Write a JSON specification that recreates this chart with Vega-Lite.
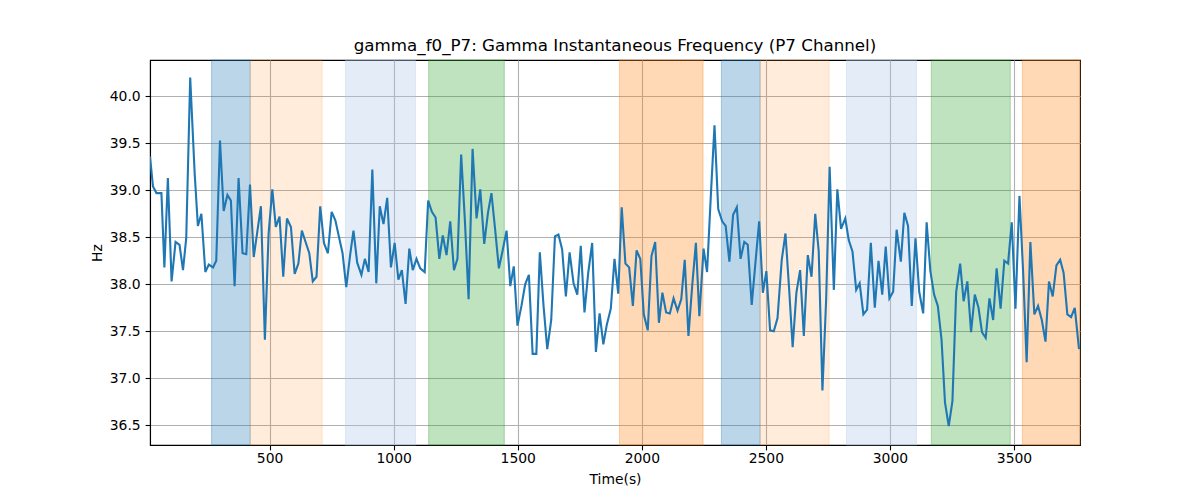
{
  "$schema": "https://vega.github.io/schema/vega-lite/v6.json",
  "width": 930,
  "height": 385,
  "autosize": {"type": "none"},
  "padding": {"left": 150, "top": 60, "right": 120, "bottom": 55},
  "title": {
    "text": "gamma_f0_P7: Gamma Instantaneous Frequency (P7 Channel)",
    "font": "DejaVu Sans",
    "fontSize": 16.7,
    "fontWeight": "normal",
    "color": "black",
    "anchor": "middle",
    "offset": 5
  },
  "config": {
    "view": {"stroke": "black", "strokeWidth": 1.1},
    "axis": {
      "labelFont": "DejaVu Sans",
      "labelFontSize": 13.9,
      "labelColor": "black",
      "titleFont": "DejaVu Sans",
      "titleFontSize": 13.9,
      "titleFontWeight": "normal",
      "titleColor": "black",
      "tickColor": "black",
      "tickSize": 4.9,
      "tickWidth": 1.1,
      "labelPadding": 4.9,
      "domainColor": "black",
      "domainWidth": 1.1,
      "gridColor": "#b0b0b0",
      "gridWidth": 1.1,
      "titlePadding": 5
    },
    "axisX": {"labelPadding": 1.5, "titlePadding": 7}
  },
  "datasets": {
    "bands": [
      {"start": 266, "end": 422, "kind": "A"},
      {"start": 422, "end": 712, "kind": "B"},
      {"start": 806, "end": 1088, "kind": "C"},
      {"start": 1141, "end": 1446, "kind": "D"},
      {"start": 1910, "end": 2247, "kind": "E"},
      {"start": 2321, "end": 2477, "kind": "A"},
      {"start": 2477, "end": 2755, "kind": "B"},
      {"start": 2825, "end": 3107, "kind": "C"},
      {"start": 3167, "end": 3485, "kind": "D"},
      {"start": 3534, "end": 3766, "kind": "E"}
    ],
    "series": [
      {"t": 18, "hz": 39.36}, {"t": 30, "hz": 39.04}, {"t": 44, "hz": 38.97}, {"t": 64, "hz": 38.97},
      {"t": 76, "hz": 38.18}, {"t": 90, "hz": 39.13}, {"t": 105, "hz": 38.03}, {"t": 121, "hz": 38.45},
      {"t": 137, "hz": 38.42}, {"t": 151, "hz": 38.15}, {"t": 164, "hz": 38.49}, {"t": 180, "hz": 40.2},
      {"t": 198, "hz": 39.18}, {"t": 211, "hz": 38.62}, {"t": 225, "hz": 38.75}, {"t": 241, "hz": 38.13},
      {"t": 255, "hz": 38.21}, {"t": 272, "hz": 38.18}, {"t": 285, "hz": 38.25}, {"t": 300, "hz": 39.53},
      {"t": 315, "hz": 38.78}, {"t": 330, "hz": 38.95}, {"t": 344, "hz": 38.89}, {"t": 359, "hz": 37.98},
      {"t": 375, "hz": 39.13}, {"t": 391, "hz": 38.33}, {"t": 406, "hz": 38.32}, {"t": 421, "hz": 39.06},
      {"t": 436, "hz": 38.29}, {"t": 450, "hz": 38.55}, {"t": 465, "hz": 38.83}, {"t": 481, "hz": 37.41},
      {"t": 496, "hz": 38.54}, {"t": 511, "hz": 39.01}, {"t": 525, "hz": 38.61}, {"t": 540, "hz": 38.72},
      {"t": 555, "hz": 38.08}, {"t": 570, "hz": 38.7}, {"t": 586, "hz": 38.61}, {"t": 601, "hz": 38.11},
      {"t": 616, "hz": 38.22}, {"t": 630, "hz": 38.57}, {"t": 645, "hz": 38.45}, {"t": 660, "hz": 38.33},
      {"t": 674, "hz": 38.03}, {"t": 689, "hz": 38.08}, {"t": 704, "hz": 38.83}, {"t": 719, "hz": 38.44},
      {"t": 735, "hz": 38.33}, {"t": 750, "hz": 38.77}, {"t": 765, "hz": 38.68}, {"t": 779, "hz": 38.51},
      {"t": 794, "hz": 38.33}, {"t": 809, "hz": 37.97}, {"t": 824, "hz": 38.3}, {"t": 838, "hz": 38.57},
      {"t": 853, "hz": 38.23}, {"t": 870, "hz": 38.1}, {"t": 884, "hz": 38.27}, {"t": 899, "hz": 38.13},
      {"t": 914, "hz": 39.22}, {"t": 930, "hz": 38.01}, {"t": 944, "hz": 38.83}, {"t": 959, "hz": 38.64},
      {"t": 974, "hz": 38.92}, {"t": 989, "hz": 38.18}, {"t": 1004, "hz": 38.44}, {"t": 1019, "hz": 38.05},
      {"t": 1033, "hz": 38.15}, {"t": 1048, "hz": 37.79}, {"t": 1063, "hz": 38.38}, {"t": 1077, "hz": 38.15},
      {"t": 1092, "hz": 38.27}, {"t": 1107, "hz": 38.17}, {"t": 1125, "hz": 38.13}, {"t": 1139, "hz": 38.89},
      {"t": 1154, "hz": 38.77}, {"t": 1169, "hz": 38.71}, {"t": 1184, "hz": 38.27}, {"t": 1198, "hz": 38.52},
      {"t": 1213, "hz": 38.31}, {"t": 1228, "hz": 38.67}, {"t": 1243, "hz": 38.15}, {"t": 1257, "hz": 38.27},
      {"t": 1272, "hz": 39.38}, {"t": 1287, "hz": 38.68}, {"t": 1302, "hz": 37.84}, {"t": 1318, "hz": 39.44},
      {"t": 1334, "hz": 38.7}, {"t": 1349, "hz": 39.01}, {"t": 1365, "hz": 38.43}, {"t": 1380, "hz": 38.76},
      {"t": 1394, "hz": 38.97}, {"t": 1409, "hz": 38.58}, {"t": 1424, "hz": 38.17}, {"t": 1440, "hz": 38.37},
      {"t": 1455, "hz": 38.57}, {"t": 1470, "hz": 37.98}, {"t": 1484, "hz": 38.19}, {"t": 1499, "hz": 37.56},
      {"t": 1515, "hz": 37.77}, {"t": 1530, "hz": 38.0}, {"t": 1545, "hz": 38.1}, {"t": 1560, "hz": 37.26},
      {"t": 1575, "hz": 37.26}, {"t": 1589, "hz": 38.34}, {"t": 1604, "hz": 37.77}, {"t": 1619, "hz": 37.31},
      {"t": 1635, "hz": 37.62}, {"t": 1650, "hz": 38.51}, {"t": 1664, "hz": 38.53}, {"t": 1679, "hz": 38.37},
      {"t": 1694, "hz": 37.87}, {"t": 1709, "hz": 38.34}, {"t": 1725, "hz": 38.01}, {"t": 1740, "hz": 37.89},
      {"t": 1754, "hz": 38.41}, {"t": 1769, "hz": 37.7}, {"t": 1784, "hz": 38.12}, {"t": 1800, "hz": 38.44},
      {"t": 1815, "hz": 37.28}, {"t": 1830, "hz": 37.69}, {"t": 1845, "hz": 37.36}, {"t": 1859, "hz": 37.57},
      {"t": 1875, "hz": 37.74}, {"t": 1890, "hz": 38.27}, {"t": 1905, "hz": 37.9}, {"t": 1919, "hz": 38.82},
      {"t": 1934, "hz": 38.22}, {"t": 1949, "hz": 38.18}, {"t": 1964, "hz": 37.77}, {"t": 1979, "hz": 38.36},
      {"t": 1994, "hz": 38.27}, {"t": 2008, "hz": 37.68}, {"t": 2024, "hz": 37.51}, {"t": 2039, "hz": 38.3},
      {"t": 2054, "hz": 38.45}, {"t": 2069, "hz": 37.59}, {"t": 2083, "hz": 37.91}, {"t": 2098, "hz": 37.7},
      {"t": 2113, "hz": 37.69}, {"t": 2128, "hz": 37.85}, {"t": 2144, "hz": 37.72}, {"t": 2159, "hz": 37.84},
      {"t": 2173, "hz": 38.26}, {"t": 2188, "hz": 37.45}, {"t": 2203, "hz": 37.98}, {"t": 2218, "hz": 38.44},
      {"t": 2232, "hz": 37.66}, {"t": 2249, "hz": 38.38}, {"t": 2263, "hz": 38.13}, {"t": 2278, "hz": 38.93},
      {"t": 2293, "hz": 39.69}, {"t": 2308, "hz": 38.8}, {"t": 2324, "hz": 38.67}, {"t": 2338, "hz": 38.62},
      {"t": 2353, "hz": 38.24}, {"t": 2368, "hz": 38.74}, {"t": 2383, "hz": 38.82}, {"t": 2398, "hz": 38.27},
      {"t": 2413, "hz": 38.45}, {"t": 2427, "hz": 38.42}, {"t": 2443, "hz": 37.78}, {"t": 2458, "hz": 38.23},
      {"t": 2473, "hz": 38.67}, {"t": 2488, "hz": 37.91}, {"t": 2502, "hz": 38.14}, {"t": 2517, "hz": 37.51},
      {"t": 2532, "hz": 37.5}, {"t": 2547, "hz": 37.64}, {"t": 2564, "hz": 38.26}, {"t": 2579, "hz": 38.54},
      {"t": 2594, "hz": 37.94}, {"t": 2608, "hz": 37.33}, {"t": 2623, "hz": 37.91}, {"t": 2638, "hz": 38.15},
      {"t": 2653, "hz": 37.45}, {"t": 2669, "hz": 38.31}, {"t": 2684, "hz": 38.08}, {"t": 2699, "hz": 38.75},
      {"t": 2713, "hz": 38.35}, {"t": 2728, "hz": 36.87}, {"t": 2743, "hz": 37.84}, {"t": 2757, "hz": 39.25},
      {"t": 2774, "hz": 37.94}, {"t": 2788, "hz": 39.01}, {"t": 2803, "hz": 38.59}, {"t": 2820, "hz": 38.7},
      {"t": 2834, "hz": 38.47}, {"t": 2849, "hz": 38.35}, {"t": 2864, "hz": 37.94}, {"t": 2878, "hz": 38.01},
      {"t": 2893, "hz": 37.68}, {"t": 2908, "hz": 37.73}, {"t": 2923, "hz": 38.44}, {"t": 2939, "hz": 37.75},
      {"t": 2954, "hz": 38.25}, {"t": 2969, "hz": 37.89}, {"t": 2983, "hz": 38.4}, {"t": 2998, "hz": 37.85},
      {"t": 3013, "hz": 37.92}, {"t": 3027, "hz": 38.58}, {"t": 3044, "hz": 38.24}, {"t": 3058, "hz": 38.76},
      {"t": 3073, "hz": 38.62}, {"t": 3088, "hz": 37.77}, {"t": 3103, "hz": 38.49}, {"t": 3118, "hz": 37.92},
      {"t": 3134, "hz": 37.69}, {"t": 3148, "hz": 38.66}, {"t": 3163, "hz": 38.14}, {"t": 3178, "hz": 37.89},
      {"t": 3193, "hz": 37.77}, {"t": 3208, "hz": 37.41}, {"t": 3222, "hz": 36.74}, {"t": 3237, "hz": 36.49},
      {"t": 3252, "hz": 36.76}, {"t": 3267, "hz": 37.92}, {"t": 3283, "hz": 38.22}, {"t": 3297, "hz": 37.82},
      {"t": 3312, "hz": 38.03}, {"t": 3327, "hz": 37.49}, {"t": 3342, "hz": 37.89}, {"t": 3357, "hz": 37.75},
      {"t": 3371, "hz": 37.49}, {"t": 3386, "hz": 37.43}, {"t": 3401, "hz": 37.85}, {"t": 3416, "hz": 37.62},
      {"t": 3430, "hz": 38.17}, {"t": 3446, "hz": 37.74}, {"t": 3461, "hz": 38.25}, {"t": 3476, "hz": 38.22},
      {"t": 3491, "hz": 38.66}, {"t": 3506, "hz": 37.74}, {"t": 3522, "hz": 38.94}, {"t": 3537, "hz": 38.12},
      {"t": 3551, "hz": 37.17}, {"t": 3566, "hz": 38.45}, {"t": 3582, "hz": 37.68}, {"t": 3597, "hz": 37.77},
      {"t": 3612, "hz": 37.62}, {"t": 3627, "hz": 37.39}, {"t": 3641, "hz": 38.03}, {"t": 3656, "hz": 37.87},
      {"t": 3671, "hz": 38.2}, {"t": 3686, "hz": 38.26}, {"t": 3700, "hz": 38.12}, {"t": 3715, "hz": 37.68},
      {"t": 3730, "hz": 37.65}, {"t": 3745, "hz": 37.75}, {"t": 3762, "hz": 37.31}
    ]
  },
  "layer": [
    {
      "data": {"name": "bands"},
      "transform": [{"filter": "datum.kind === 'A' || datum.kind === 'D' || datum.kind === 'E'"}],
      "mark": {"type": "rect", "strokeWidth": 1.1, "fillOpacity": 0.3, "strokeOpacity": 0.3},
      "encoding": {
        "x": {
          "field": "start",
          "type": "quantitative",
          "scale": {"domain": [18, 3766], "nice": false, "zero": false},
          "axis": {
            "title": "Time(s)",
            "values": [500, 1000, 1500, 2000, 2500, 3000, 3500],
            "format": "d"
          }
        },
        "x2": {"field": "end"},
        "color": {
          "field": "kind",
          "type": "nominal",
          "scale": {
            "domain": ["A", "B", "C", "D", "E"],
            "range": ["#1f77b4", "#ff7f0e", "#aec7e8", "#2ca02c", "#ff7f0e"]
          },
          "legend": null
        },
        "stroke": {
          "field": "kind",
          "type": "nominal",
          "scale": {
            "domain": ["A", "B", "C", "D", "E"],
            "range": ["#1f77b4", "#ff7f0e", "#aec7e8", "#2ca02c", "#ff7f0e"]
          },
          "legend": null
        }
      }
    },
    {
      "data": {"name": "bands"},
      "transform": [{"filter": "datum.kind === 'B'"}],
      "mark": {"type": "rect", "strokeWidth": 1.1, "fillOpacity": 0.15, "strokeOpacity": 0.15},
      "encoding": {
        "x": {"field": "start", "type": "quantitative"},
        "x2": {"field": "end"},
        "color": {"field": "kind", "type": "nominal", "legend": null},
        "stroke": {"field": "kind", "type": "nominal", "legend": null}
      }
    },
    {
      "data": {"name": "bands"},
      "transform": [{"filter": "datum.kind === 'C'"}],
      "mark": {"type": "rect", "strokeWidth": 1.1, "fillOpacity": 0.33, "strokeOpacity": 0.33},
      "encoding": {
        "x": {"field": "start", "type": "quantitative"},
        "x2": {"field": "end"},
        "color": {"field": "kind", "type": "nominal", "legend": null},
        "stroke": {"field": "kind", "type": "nominal", "legend": null}
      }
    },
    {
      "data": {"name": "series"},
      "mark": {"type": "line", "color": "#1f77b4", "strokeWidth": 2.1, "clip": true},
      "encoding": {
        "x": {"field": "t", "type": "quantitative"},
        "y": {
          "field": "hz",
          "type": "quantitative",
          "scale": {"domain": [36.29, 40.386], "nice": false, "zero": false},
          "axis": {
            "title": "Hz",
            "values": [36.5, 37.0, 37.5, 38.0, 38.5, 39.0, 39.5, 40.0],
            "format": ".1f"
          }
        }
      }
    }
  ]
}
